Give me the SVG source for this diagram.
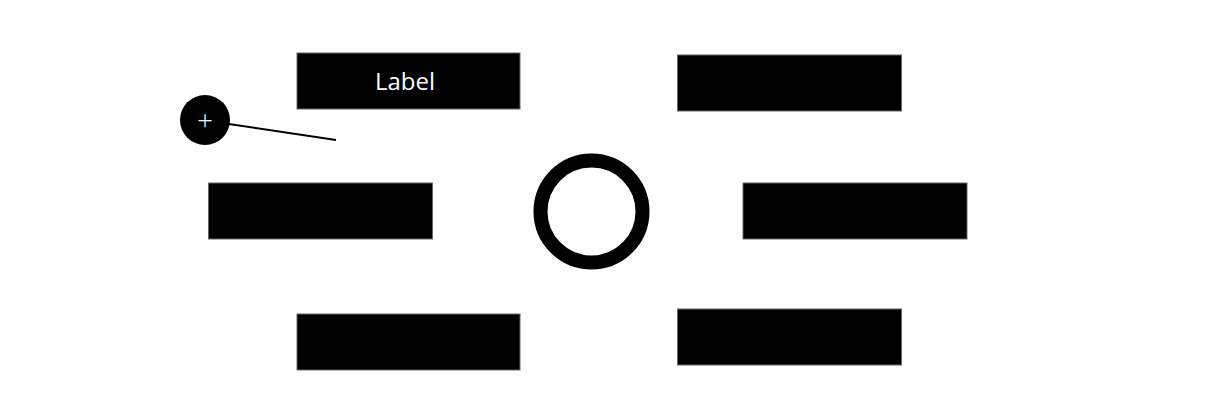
<svg xmlns="http://www.w3.org/2000/svg" width="1214" height="404" viewBox="0 0 1214 404">
<style>
.box{fill:#000;stroke:#666;stroke-width:1}
.lbl{fill:#fff;font-family:"Open Sans","Noto Sans",sans-serif;font-size:24px;text-anchor:middle;dominant-baseline:central}
</style>
<rect width="1214" height="404" fill="#fff"/>
<g id="connectors">
<line x1="222" y1="123" x2="336" y2="140" stroke="#000" stroke-width="2"/>
</g>
<g id="node-top-left"><rect class="box" x="297" y="53" width="223" height="56"/><text class="lbl" x="405" y="80">Label</text></g>
<g id="node-top-right"><rect class="box" x="677.5" y="55" width="224" height="56"/></g>
<g id="node-mid-left"><rect class="box" x="208.5" y="183" width="224" height="56"/></g>
<g id="node-mid-right"><rect class="box" x="743" y="183" width="224" height="56"/></g>
<g id="node-bottom-left"><rect class="box" x="297" y="314" width="223" height="56"/></g>
<g id="node-bottom-right"><rect class="box" x="677.5" y="309" width="224" height="56"/></g>
<g id="node-center"><circle cx="591.5" cy="211.5" r="51" fill="none" stroke="#000" stroke-width="14"/></g>
<g id="node-plus"><circle cx="205" cy="120" r="25" fill="#000"/><text class="lbl" x="205" y="119" style="font-size:28px;font-weight:300">+</text></g>
</svg>
